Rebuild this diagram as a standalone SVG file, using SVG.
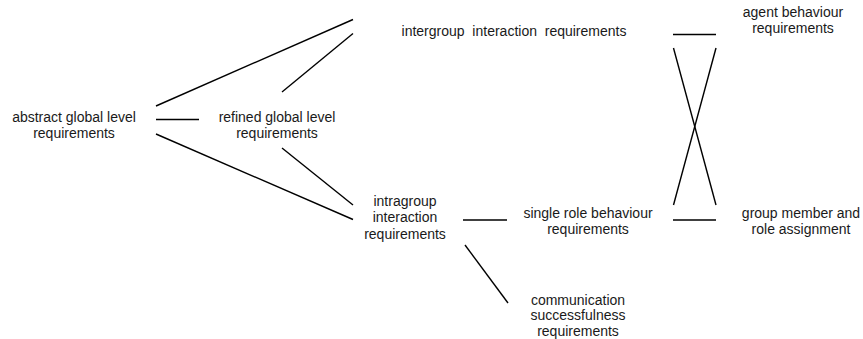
<svg xmlns="http://www.w3.org/2000/svg" width="863" height="339" viewBox="0 0 863 339">
<style>
text{font-family:"Liberation Sans",Arial,sans-serif;font-size:14px;fill:#1a1a1a;text-anchor:middle;white-space:pre}
.c line{stroke:#000;stroke-width:1.4;fill:none}
</style>
<rect width="863" height="339" fill="#fff"/>
<g id="abstract"><text x="74" y="121.5">abstract global level</text><text x="74" y="138">requirements</text></g>
<g id="refined"><text x="277" y="121.5">refined global level</text><text x="277" y="138">requirements</text></g>
<g id="intergroup"><text x="514" y="35.5" xml:space="preserve">intergroup  interaction  requirements</text></g>
<g id="agent"><text x="793" y="16.5">agent behaviour</text><text x="793" y="33">requirements</text></g>
<g id="intragroup"><text x="405" y="205.5">intragroup</text><text x="405" y="222">interaction</text><text x="405" y="238.5">requirements</text></g>
<g id="single"><text x="588" y="217.5">single role behaviour</text><text x="588" y="234">requirements</text></g>
<g id="groupmember"><text x="801" y="217.5">group member and</text><text x="801" y="234">role assignment</text></g>
<g id="communication"><text x="578" y="304.5">communication</text><text x="578" y="320">successfulness</text><text x="578" y="335.5">requirements</text></g>
<g class="c" id="connectors">
<line x1="156" y1="106" x2="353" y2="19.5"/>
<line x1="282" y1="92" x2="353" y2="33.5"/>
<line x1="156" y1="119.5" x2="199" y2="119.5"/>
<line x1="156" y1="134" x2="353" y2="219.5"/>
<line x1="282" y1="148" x2="353" y2="205"/>
<line x1="673" y1="34.5" x2="716" y2="34.5"/>
<line x1="673.5" y1="48" x2="716" y2="205"/>
<line x1="716" y1="48" x2="673.5" y2="205"/>
<line x1="673" y1="220" x2="716" y2="220"/>
<line x1="463" y1="220" x2="507" y2="220"/>
<line x1="465" y1="245" x2="508" y2="303"/>
</g>
</svg>
